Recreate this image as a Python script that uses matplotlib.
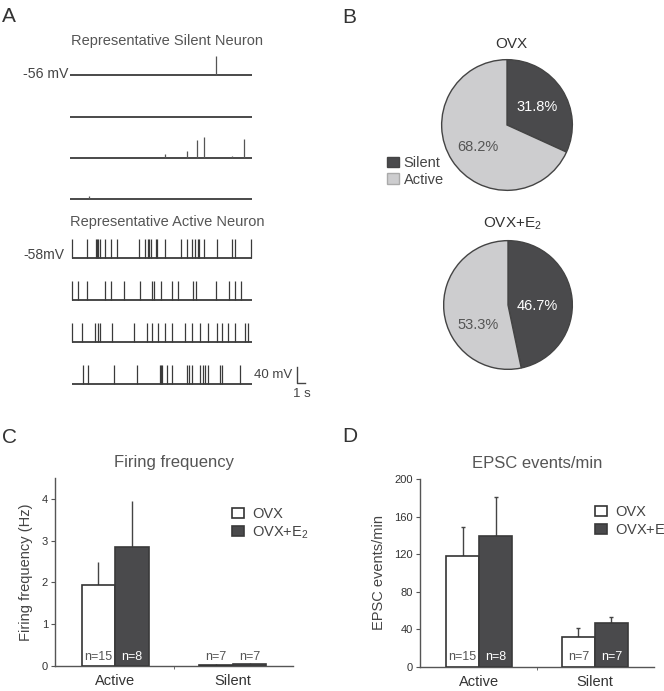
import matplotlib
matplotlib.use('Agg')
import matplotlib.pyplot as plt
from matplotlib.patches import Patch

plt.rcParams['font.family'] = ['Liberation Sans', 'DejaVu Sans']
plt.rcParams['mathtext.fontset'] = 'custom'
plt.rcParams['mathtext.rm'] = 'Liberation Sans'
plt.rcParams['mathtext.it'] = 'Liberation Sans:italic'

# ---------------- data ----------------
trace_duration = 22.2  # s

# Representative silent neuron: spike/event times (s) and amplitudes (mV)
silent_times = [
    [17.85],
    [],
    [11.65, 14.26, 15.57, 16.38, 19.76, 21.27],
    [2.36],
]
silent_amps = [
    [47],
    [],
    [10, 17, 45, 52, 5, 48],
    [8],
]

# Representative active neuron: spike times (s)
active_times = [
    [0.29, 2.12, 3.14, 3.30, 3.46, 3.63, 4.32, 4.97, 5.71, 8.44, 9.17, 9.50, 9.66,
     9.86, 10.47, 10.64, 11.61, 13.57, 14.26, 14.87, 15.28, 15.61, 15.81, 16.42,
     18.01, 19.76, 20.17, 22.09],
    [0.29, 0.94, 2.04, 4.28, 5.01, 6.64, 8.56, 9.98, 10.31, 11.12, 12.43, 13.24,
     15.08, 15.36, 17.85, 19.44, 20.17, 20.90],
    [0.29, 1.51, 3.06, 3.46, 3.63, 5.09, 7.86, 9.45, 10.06, 10.72, 11.61, 12.43,
     14.06, 14.87, 15.89, 16.83, 17.93, 18.54, 19.27, 20.17, 21.39, 21.72],
    [1.63, 2.16, 5.42, 8.15, 11.00, 11.12, 11.21, 11.82, 12.51, 14.26, 14.55, 14.87,
     15.89, 16.30, 16.50, 16.83, 18.34, 18.54, 20.78],
]
active_spike_amp = 48  # mV

silent_vm_label = '-56 mV'
active_vm_label = '-58mV'

# Panel B
pie_groups = ['OVX', 'OVX+E$_2$']
pie_labels = ['Silent', 'Active']
ovx_pct = [31.8, 68.2]
e2_pct = [46.7, 53.3]

# Panels C, D
categories = ['Active', 'Silent']
series_names = ['OVX', 'OVX+E$_2$']
n_ovx = ['n=15', 'n=7']
n_e2 = ['n=8', 'n=7']

fire_ovx = [1.93, 0.03]
fire_ovx_err = [0.56, 0.02]
fire_e2 = [2.86, 0.04]
fire_e2_err = [1.10, 0.03]

epsc_ovx = [118, 32]
epsc_ovx_err = [31, 9]
epsc_e2 = [139, 47]
epsc_e2_err = [42, 5.5]

# ---------------- layout helpers ----------------
W, H = 664, 691
fig = plt.figure(figsize=(W / 100, H / 100), dpi=100)
fig.patch.set_facecolor('white')


def box(l, t, r, b):
    return [l / W, 1 - b / H, (r - l) / W, (b - t) / H]


def fx(x):
    return x / W


def fy(y):
    return 1 - y / H


TXT = '#444444'
DARK = '#4a4a4c'
LIGHT = '#cdcdcf'

# panel letters
for letter, (x, y) in zip('ABCD', [(2, 22), (342, 23), (2, 443), (342, 442)]):
    fig.text(fx(x), fy(y), letter, fontsize=15, color='#333333', va='baseline')

# ---------------- Panel A ----------------
axA = fig.add_axes(box(0, 25, 330, 400))
pxs = 180 / 22.0          # px per second
pxmv = 0.4                # px per mV
axA.set_xlim(-70 / pxs, (330 - 70) / pxs)
axA.set_ylim(-(400 - 75) / pxmv, (75 - 25) / pxmv)
axA.axis('off')

silent_rows = [75, 117, 158, 199]
active_rows = [258, 300, 342, 384]


def row_y(px):
    return -(px - 75) / pxmv


trace_col = '#2a2a2a'
for row, times, amps in zip(silent_rows, silent_times, silent_amps):
    y0 = row_y(row)
    axA.hlines(y0, 0, trace_duration, color=trace_col, lw=1.2)
    if times:
        axA.vlines(times, y0, [y0 + a for a in amps], color='#555555', lw=0.9)

for row, times in zip(active_rows, active_times):
    y0 = row_y(row)
    axA.hlines(y0, 0.2, trace_duration, color=trace_col, lw=1.2)
    axA.vlines(times, y0, y0 + active_spike_amp, color='#3a3a3a', lw=0.9)

fig.text(fx(167), fy(41.5), 'Representative Silent Neuron', fontsize=10.5,
         color='#555555', ha='center', va='center')
fig.text(fx(167), fy(221.5), 'Representative Active Neuron', fontsize=10.5,
         color='#555555', ha='center', va='center')
fig.text(fx(68), fy(74), silent_vm_label, fontsize=10.2, color=TXT, ha='right', va='center')
fig.text(fx(64), fy(255), active_vm_label, fontsize=10, color=TXT, ha='right', va='center')

# scale bar: 40 mV, 1 s
sb_x = (297 - 70) / pxs
sb_y = row_y(383)
axA.plot([sb_x, sb_x, sb_x + 1], [sb_y + 40, sb_y, sb_y], color='#444444', lw=1)
fig.text(fx(292), fy(375), '40 mV', fontsize=9.5, color=TXT, ha='right', va='center')
fig.text(fx(302), fy(394), '1 s', fontsize=9.5, color=TXT, ha='center', va='center')

# ---------------- Panel B ----------------
pie_boxes = [(441, 59, 573, 191), (443, 240, 573, 370)]
pie_title_y = [44, 224]
pie_data = [ovx_pct, e2_pct]
pie_text_pos = [[(0.46, 0.28), (-0.45, -0.33)], [(0.45, -0.02), (-0.46, -0.31)]]
for bx, ty, vals, title, tpos in zip(pie_boxes, pie_title_y, pie_data, pie_groups, pie_text_pos):
    ax = fig.add_axes(box(*bx))
    ax.pie(vals, colors=[DARK, LIGHT], startangle=90, counterclock=False,
           wedgeprops=dict(edgecolor='#444444', linewidth=1.0))
    ax.set_xlim(-1.01, 1.01)
    ax.set_ylim(-1.01, 1.01)
    for (tx, tyy), v, col in zip(tpos, vals, ['white', '#555555']):
        ax.text(tx, tyy, f'{v:.1f}%', fontsize=10.5, color=col, ha='center', va='center')
    fig.text(fx((bx[0] + bx[2]) / 2 + 4), fy(ty), title, fontsize=11, color='#333333',
             ha='center', va='center')

fig.legend(handles=[Patch(facecolor=DARK, edgecolor='#444444'),
                    Patch(facecolor=LIGHT, edgecolor='#aaaaaa')],
           labels=pie_labels, loc='upper left', bbox_to_anchor=(fx(387), fy(156)),
           frameon=False, fontsize=10.5, handlelength=0.8, handleheight=0.75,
           handletextpad=0.35, labelspacing=0.18, borderpad=0, borderaxespad=0,
           labelcolor='#444444')

# ---------------- Panels C, D ----------------
bar_w = 0.285


def bar_panel(rect, ovx, ovx_err, e2, e2_err, ymax, yticks, ylabel, title, ny, capsize,
              silent_n_above, leg_anchor):
    ax = fig.add_axes(box(*rect))
    xs = list(range(len(categories)))
    x1 = [x - bar_w / 2 for x in xs]
    x2 = [x + bar_w / 2 for x in xs]
    ax.bar(x1, ovx, width=bar_w, color='white', edgecolor='#333333', linewidth=1.2,
           label=series_names[0], zorder=3)
    ax.bar(x2, e2, width=bar_w, color=DARK, edgecolor='#3a3a3a', linewidth=1.2,
           label=series_names[1], zorder=3)
    ax.errorbar(x1, ovx, yerr=[[0] * len(ovx), ovx_err], fmt='none', ecolor='#444444',
                elinewidth=1, capsize=capsize, zorder=2)
    ax.errorbar(x2, e2, yerr=[[0] * len(e2), e2_err], fmt='none', ecolor='#444444',
                elinewidth=1, capsize=capsize, zorder=2)
    for i in xs:
        c1 = '#555555'
        c2 = '#555555' if silent_n_above and i == 1 else 'white'
        ax.text(x1[i], ny, n_ovx[i], fontsize=9, color=c1, ha='center', va='center', zorder=4)
        ax.text(x2[i], ny, n_e2[i], fontsize=9, color=c2, ha='center', va='center', zorder=4)
    ax.set_xlim(-0.51, 1.51)
    ax.set_ylim(0, ymax)
    ax.set_yticks(yticks)
    ax.set_xticks(xs)
    ax.set_xticklabels(categories, fontsize=10.5, color='#333333')
    ax.set_xticks([0.5], minor=True)
    ax.tick_params(axis='x', which='major', length=0, pad=6)
    ax.tick_params(axis='x', which='minor', length=2.5, color='#555555')
    ax.tick_params(axis='y', length=3, color='#555555', labelsize=8, labelcolor='#333333', pad=2)
    for s in ['top', 'right']:
        ax.spines[s].set_visible(False)
    for s in ['left', 'bottom']:
        ax.spines[s].set_color('#555555')
        ax.spines[s].set_linewidth(1)
    ax.set_ylabel(ylabel, fontsize=10.5, color='#444444', labelpad=6)
    ax.set_title(title, fontsize=12, color='#555555', pad=8)
    ax.legend(loc='upper left', bbox_to_anchor=leg_anchor, bbox_transform=fig.transFigure,
              frameon=False, fontsize=10.5, handlelength=0.8, handleheight=0.75,
              handletextpad=0.6, labelspacing=0.22, borderpad=0, borderaxespad=0,
              labelcolor='#444444')
    return ax


bar_panel((55, 478, 293, 666), fire_ovx, fire_ovx_err, fire_e2, fire_e2_err,
          4.5, [0, 1, 2, 3, 4], 'Firing frequency (Hz)', 'Firing frequency', 0.22, 0,
          True, (fx(232), fy(507)))
bar_panel((420, 479, 654, 666.7), epsc_ovx, epsc_ovx_err, epsc_e2, epsc_e2_err,
          200, [0, 40, 80, 120, 160, 200], 'EPSC events/min', 'EPSC events/min', 10.7, 1.5,
          False, (fx(595), fy(505)))

# Silent n labels in panel C sit above the tiny bars (same row), recolour OVX+E2 text
fig.savefig('out.png', dpi=100, facecolor='white')
